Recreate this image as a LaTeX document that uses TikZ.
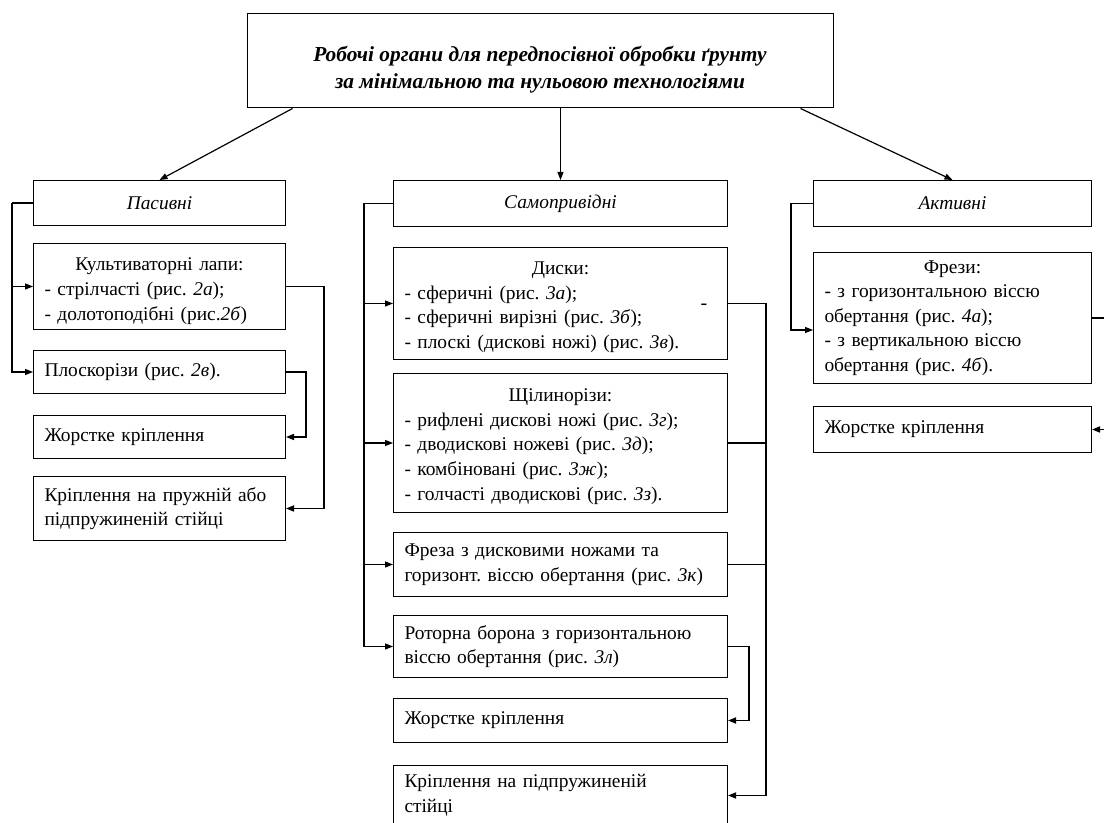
\documentclass[tikz,border=0pt]{standalone}
\usepackage{fontspec}
\setmainfont{Liberation Serif}
\usetikzlibrary{arrows.meta}
\frenchspacing

\begin{document}
\begin{tikzpicture}[x=0.5pt,y=0.5pt,yscale=-1,xscale=1,
  box/.style={draw,line width=0.5pt,anchor=north west,inner xsep=5.5pt,inner ysep=0pt,
    align=left,font=\fontsize{9.7}{12.3}\selectfont},
  colL/.style={box,text width=115pt},
  colM/.style={box,text width=156pt},
  colR/.style={box,text width=128pt},
  head/.style={align=center},
  inlink/.style={line width=0.6pt},
  outlink/.style={line width=0.8pt},
  arr/.style={-{Triangle[length=4pt,width=3pt]}}]

\useasboundingbox (0,0) rectangle (1104,823);
\clip (0,0) rectangle (1104,823);


\node [draw,line width=0.5pt,align=center,minimum width=293pt,minimum height=47pt,
  font=\fontsize{10.7}{13.5}\selectfont\bfseries\itshape] (root) at (540,61)
  {\rule{0pt}{16pt}Робочі органи для передпосівної обробки ґрунту\\за мінімальною та нульовою технологіями};


\node [colL,head,minimum height=22.5pt] (pas) at (33,180) {\textit{Пасивні}};

\node [colL,minimum height=43pt] (kult) at (33,243)
  {\rule{0pt}{11pt}\hspace*{\fill}Культиваторні лапи:\hspace*{\fill}\null\\- стрілчасті (рис. \textit{2а});\\- долотоподібні (рис.\textit{2б})};

\node [colL,minimum height=21.5pt] (plosk) at (33,350) {Плоскорізи (рис. \textit{2в}).};

\node [colL,minimum height=21.5pt] (zhorst) at (33,415) {Жорстке кріплення};

\node [colL,minimum height=32pt] (kripl) at (33,476) {Кріплення на пружній або\\підпружиненій стійці};


\node [colM,head,minimum height=23pt] (sam) at (393,180) {\textit{Самопривідні}};

\node [colM,minimum height=56pt] (dysk) at (393,247)
  {\rule{0pt}{10pt}\hspace*{\fill}Диски:\hspace*{\fill}\null\\- сферичні (рис. \textit{3а});\\- сферичні вирізні (рис. \textit{3б});\\- плоскі (дискові ножі) (рис. \textit{3в}).};

\node (dysk-mark) at (704,307) {-};

\node [colM,minimum height=69.5pt] (shch) at (393,373)
  {\rule{0pt}{10pt}\hspace*{\fill}Щілинорізи:\hspace*{\fill}\null\\- рифлені дискові ножі (рис. \textit{3г});\\- дводискові ножеві (рис. \textit{3д});\\- комбіновані (рис. \textit{3ж});\\- голчасті дводискові (рис. \textit{3з}).};

\node [colM,minimum height=32pt] (freza) at (393,532)
  {Фреза з дисковими ножами та\\горизонт. віссю обертання (рис. \textit{3к})};

\node [colM,minimum height=31pt] (rotor) at (393,615)
  {Роторна борона з горизонтальною\\віссю обертання (рис. \textit{3л})};

\node [colM,minimum height=22pt] (zhorst2) at (393,698) {Жорстке кріплення};

\node [colM,minimum height=30pt] (kripl2) at (393,765) {Кріплення на підпружиненій\\стійці};


\node [colR,head,minimum height=23pt] (akt) at (813,180) {\textit{Активні}};

\node [colR,minimum height=65.5pt] (frezy) at (813,252)
  {\hspace*{\fill}Фрези:\hspace*{\fill}\null\\- з горизонтальною віссю\\обертання (рис. \textit{4а});\\- з вертикальною віссю\\обертання (рис. \textit{4б}).};

\node [colR,minimum height=23pt] (zhorst3) at (813,406) {Жорстке кріплення};


\draw [inlink,arr] ([xshift=23pt]root.south west) -- (pas.north);
\draw [inlink,arr] (root.south -| sam.north) -- (sam.north);
\draw [inlink,arr] ([xshift=-16.5pt]root.south east) -- (akt.north);


\draw [inlink] (pas.west) -- ++(-21,0) coordinate (pas-bus);
\draw [inlink,arr] (pas-bus) |- (kult.west);
\draw [inlink,arr] (pas-bus) |- (plosk.west);
\draw [outlink,arr] (kult.east) -- ++(38,0) |- (kripl.east);
\draw [outlink,arr] (plosk.east) -- ++(20,0) |- (zhorst.east);


\draw [inlink] (sam.west) -- ++(-29,0) coordinate (sam-bus);
\draw [inlink,arr] (sam-bus) |- (dysk.west);
\draw [inlink,arr] (sam-bus) |- (shch.west);
\draw [inlink,arr] (sam-bus) |- (freza.west);
\draw [inlink,arr] (sam-bus) |- (rotor.west);
\draw [outlink,arr] (dysk.east) -- ++(38,0) coordinate (sam-out) |- (kripl2.east);
\draw [outlink] (shch.east) -- (shch.east -| sam-out);
\draw [outlink] (freza.east) -- (freza.east -| sam-out);
\draw [outlink,arr] (rotor.east) -- ++(21,0) |- (zhorst2.east);


\draw [inlink,arr] (akt.west) -- ++(-22,0) |- ([yshift=6pt]frezy.west);
\draw [outlink,arr] (frezy.east) -- ++(40,0) |- (zhorst3.east);

\end{tikzpicture}
\end{document}
